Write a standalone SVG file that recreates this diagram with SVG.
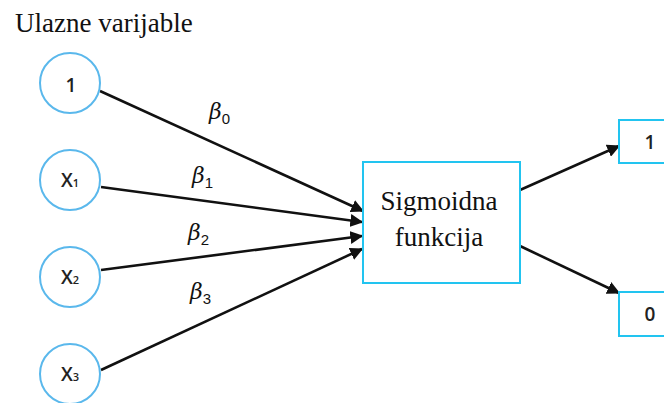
<svg xmlns="http://www.w3.org/2000/svg" width="664" height="403" viewBox="0 0 664 403">
<style>
.inp{fill:#fff;stroke:#5AB8EC;stroke-width:2}
.box{fill:#fff;stroke:#22C4F0;stroke-width:2}
.lbl{font-family:'Open Sans','DejaVu Sans',sans-serif;font-size:19px;font-weight:600;fill:#222;text-anchor:middle}
.sub{font-size:11px}
.serif{font-family:'Liberation Serif','Times New Roman',serif;fill:#111}
.beta{font-family:'DejaVu Serif','Liberation Serif',serif;font-style:italic;font-size:22px;fill:#111}
.bsub{font-style:normal;font-family:'Liberation Sans',sans-serif;font-size:15px}
.conn{stroke:#111;stroke-width:2.6;fill:none;marker-end:url(#ah)}
</style>
<defs>
<marker id="ah" viewBox="0 0 10 10" refX="9" refY="5" markerWidth="5" markerHeight="5" orient="auto" markerUnits="strokeWidth">
<path d="M0,0 L10,5 L0,10 z" fill="#111"/>
</marker>
</defs>
<rect width="664" height="403" fill="#fff"/>
<text class="serif" x="15" y="32" font-size="27">Ulazne varijable</text>
<g id="connectors">
<line class="conn" x1="100" y1="91" x2="363" y2="211"/>
<line class="conn" x1="101" y1="187" x2="362" y2="222"/>
<line class="conn" x1="101" y1="270" x2="362" y2="236"/>
<line class="conn" x1="101" y1="370" x2="362" y2="249"/>
<line class="conn" x1="520" y1="190" x2="619" y2="146"/>
<line class="conn" x1="520" y1="246" x2="619" y2="293"/>
<text class="beta" x="209" y="119">β<tspan class="bsub" dy="5">0</tspan></text>
<text class="beta" x="192" y="183">β<tspan class="bsub" dy="5">1</tspan></text>
<text class="beta" x="188" y="240">β<tspan class="bsub" dy="5">2</tspan></text>
<text class="beta" x="190" y="299">β<tspan class="bsub" dy="5">3</tspan></text>
</g>
<g id="in1">
<circle class="inp" cx="70" cy="83" r="30"/>
<text class="lbl" x="71" y="92" font-size="21">1</text>
</g>
<g id="x1">
<circle class="inp" cx="70" cy="180" r="30"/>
<text class="lbl" x="70" y="187">X<tspan class="sub">1</tspan></text>
</g>
<g id="x2">
<circle class="inp" cx="70" cy="277" r="30"/>
<text class="lbl" x="70" y="284">X<tspan class="sub">2</tspan></text>
</g>
<g id="x3">
<circle class="inp" cx="70" cy="374" r="30"/>
<text class="lbl" x="70" y="381">X<tspan class="sub">3</tspan></text>
</g>
<g id="sigmoid">
<rect class="box" x="363" y="162" width="157" height="121"/>
<text class="serif" x="439" y="210" text-anchor="middle" font-size="27">Sigmoidna</text>
<text class="serif" x="439" y="246" text-anchor="middle" font-size="27">funkcija</text>
</g>
<g id="out1">
<rect class="box" x="619" y="120" width="50" height="43"/>
<text class="lbl" x="650" y="149" font-size="21">1</text>
</g>
<g id="out0">
<rect class="box" x="619" y="292" width="50" height="44"/>
<text class="lbl" x="650" y="321" font-size="21">0</text>
</g>
</svg>
